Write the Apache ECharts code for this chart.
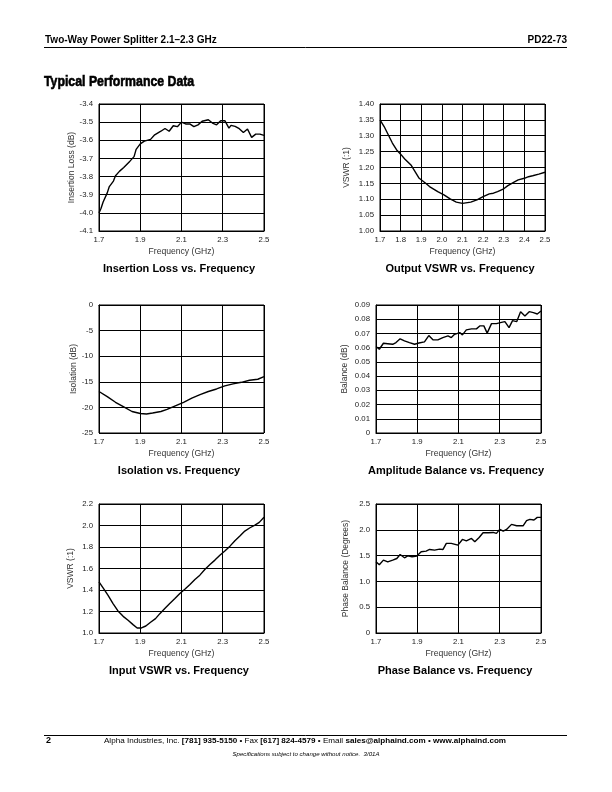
<!DOCTYPE html>
<html><head><meta charset="utf-8">
<script src="https://cdn.jsdelivr.net/npm/echarts@6/dist/echarts.min.js"></script>
<style>html,body{margin:0;padding:0;background:#fff}#c{width:612px;height:792px}</style>
</head><body><div id="c"></div>
<script>
// ---------- DATA ----------
const freqIL = [1.70,1.71,1.72,1.74,1.75,1.77,1.78,1.80,1.82,1.85,1.87,1.88,1.90,1.92,1.95,1.97,2.00,2.02,2.04,2.06,2.08,2.10,2.12,2.14,2.16,2.18,2.20,2.23,2.25,2.27,2.29,2.31,2.33,2.34,2.36,2.38,2.40,2.42,2.44,2.46,2.48,2.50];
const insertionLoss = [-4.00,-3.975,-3.94,-3.89,-3.855,-3.825,-3.795,-3.77,-3.75,-3.715,-3.69,-3.65,-3.62,-3.605,-3.595,-3.57,-3.55,-3.535,-3.55,-3.52,-3.525,-3.50,-3.51,-3.51,-3.525,-3.515,-3.495,-3.487,-3.505,-3.515,-3.492,-3.492,-3.533,-3.518,-3.523,-3.536,-3.557,-3.538,-3.584,-3.566,-3.566,-3.573];

const freqOutVSWR = [1.70,1.72,1.74,1.76,1.78,1.80,1.82,1.85,1.87,1.89,1.92,1.94,1.98,2.01,2.04,2.07,2.10,2.14,2.17,2.20,2.23,2.25,2.27,2.30,2.32,2.35,2.37,2.40,2.42,2.44,2.47,2.50];
const outputVSWR = [1.350,1.329,1.303,1.277,1.256,1.242,1.227,1.208,1.187,1.166,1.151,1.140,1.124,1.114,1.101,1.091,1.087,1.091,1.098,1.108,1.117,1.119,1.124,1.133,1.143,1.154,1.161,1.166,1.171,1.174,1.179,1.185];

const freqIso = [1.70,1.74,1.78,1.82,1.86,1.90,1.93,1.96,2.00,2.03,2.07,2.11,2.15,2.19,2.23,2.27,2.31,2.35,2.39,2.43,2.47,2.50];
const isolation = [-16.9,-17.9,-19.0,-19.9,-20.8,-21.2,-21.3,-21.1,-20.8,-20.4,-19.7,-19.0,-18.2,-17.5,-16.9,-16.4,-15.8,-15.4,-15.1,-14.7,-14.5,-14.0];

const freqAmp = [1.70,1.708,1.716,1.724,1.736,1.757,1.781,1.797,1.817,1.838,1.862,1.887,1.908,1.935,1.956,1.976,2.00,2.024,2.049,2.065,2.081,2.106,2.119,2.138,2.163,2.187,2.203,2.223,2.239,2.26,2.284,2.308,2.325,2.345,2.362,2.382,2.401,2.422,2.443,2.463,2.482,2.50];
const amplitudeBalance = [0.0608,0.0600,0.0589,0.0600,0.0631,0.0628,0.0624,0.0636,0.0662,0.0648,0.0636,0.0624,0.0633,0.0641,0.0685,0.0655,0.0655,0.0671,0.0683,0.0671,0.0694,0.0706,0.0690,0.0725,0.0732,0.0732,0.0753,0.0753,0.0702,0.0769,0.0769,0.0778,0.0783,0.0741,0.0790,0.0783,0.0853,0.0823,0.0853,0.0846,0.0837,0.0858];

const freqInVSWR = [1.70,1.719,1.744,1.768,1.792,1.817,1.841,1.865,1.885,1.906,1.927,1.95,1.974,1.995,2.019,2.043,2.068,2.092,2.116,2.141,2.165,2.189,2.213,2.238,2.262,2.286,2.31,2.335,2.359,2.383,2.407,2.432,2.456,2.477,2.50];
const inputVSWR = [1.476,1.423,1.351,1.274,1.205,1.155,1.118,1.078,1.047,1.047,1.065,1.100,1.134,1.180,1.227,1.274,1.320,1.367,1.407,1.451,1.497,1.538,1.591,1.637,1.678,1.724,1.762,1.808,1.858,1.902,1.948,1.979,2.004,2.029,2.076];

const freqPhase = [1.70,1.716,1.736,1.757,1.781,1.801,1.817,1.838,1.854,1.875,1.898,1.919,1.943,1.96,1.984,2.008,2.025,2.041,2.065,2.097,2.119,2.138,2.163,2.179,2.20,2.219,2.244,2.268,2.284,2.30,2.317,2.333,2.357,2.382,2.414,2.43,2.446,2.466,2.482,2.50];
const phaseBalance = [1.379,1.321,1.412,1.379,1.412,1.444,1.522,1.457,1.496,1.477,1.490,1.574,1.587,1.619,1.606,1.626,1.619,1.736,1.736,1.703,1.813,1.787,1.832,1.768,1.852,1.943,1.943,1.949,1.930,2.008,1.975,2.008,2.105,2.079,2.079,2.176,2.202,2.189,2.241,2.241];

const panelTitles = ['Insertion Loss vs. Frequency','Output VSWR vs. Frequency','Isolation vs. Frequency','Amplitude Balance vs. Frequency','Input VSWR vs. Frequency','Phase Balance vs. Frequency'];
const yNames = ['Insertion Loss (dB)','VSWR (:1)','Isolation (dB)','Balance (dB)','VSWR (:1)','Phase Balance (Degrees)'];
const xName = 'Frequency (GHz)';

// ---------- BUILD ----------
const FONT = '"Liberation Sans", Arial, Helvetica, sans-serif';
function zip(a, b) { const n = Math.min(a.length, b.length); const r = []; for (let i = 0; i < n; i++) r.push([a[i], b[i]]); return r; }
function fmt(dec) { return v => (Math.abs(v) < 1e-9 ? '0' : v.toFixed(dec)); }

const panels = [
  {grid:{left:99,top:104,width:165,height:127}, xi:0.2, y:[-4.1,-3.4,0.1,1], ng:20, data:zip(freqIL, insertionLoss), tx:179, ty:269},
  {grid:{left:380,top:104,width:165,height:127}, xi:0.1, y:[1.0,1.4,0.05,2], ng:29, data:zip(freqOutVSWR, outputVSWR), tx:460, ty:269},
  {grid:{left:99,top:305,width:165,height:128}, xi:0.2, y:[-25,0,5,0], ng:20, data:zip(freqIso, isolation), tx:179, ty:471},
  {grid:{left:376,top:305,width:165,height:128}, xi:0.2, y:[0,0.09,0.01,2], ng:27, data:zip(freqAmp, amplitudeBalance), tx:456, ty:471},
  {grid:{left:99,top:504,width:165,height:129}, xi:0.2, y:[1.0,2.2,0.2,1], ng:24, data:zip(freqInVSWR, inputVSWR), tx:179, ty:671},
  {grid:{left:376,top:504,width:165,height:129}, xi:0.2, y:[0,2.5,0.5,1], ng:26, data:zip(freqPhase, phaseBalance), tx:455, ty:671}
];

const grids = [], xAxes = [], yAxes = [], series = [];
const gridLine = {show:true, lineStyle:{color:'#000', width:1}};
panels.forEach((p, i) => {
  grids.push(Object.assign({show:true, borderColor:'#000', borderWidth:1, backgroundColor:'transparent'}, p.grid));
  xAxes.push({type:'value', gridIndex:i, min:1.7, max:2.5, interval:p.xi,
    name:xName, nameLocation:'middle', nameGap:16,
    nameTextStyle:{fontFamily:FONT, fontSize:8.6, color:'#333'},
    axisLine:{show:true, lineStyle:{color:'#000', width:1}}, axisTick:{show:false},
    axisLabel:{formatter:fmt(1), fontFamily:FONT, fontSize:7.8, color:'#222', margin:5, showMinLabel:true, showMaxLabel:true, hideOverlap:false},
    splitLine:gridLine});
  yAxes.push({type:'value', gridIndex:i, min:p.y[0], max:p.y[1], interval:p.y[2],
    name:yNames[i], nameLocation:'middle', nameGap:p.ng, nameRotate:90,
    nameTextStyle:{fontFamily:FONT, fontSize:8.5, color:'#333'},
    axisLine:{show:true, lineStyle:{color:'#000', width:1}}, axisTick:{show:false},
    axisLabel:{formatter:fmt(p.y[3]), fontFamily:FONT, fontSize:7.8, color:'#222', margin:6, showMinLabel:true, showMaxLabel:true, hideOverlap:false},
    splitLine:gridLine});
  series.push({type:'line', xAxisIndex:i, yAxisIndex:i, data:p.data, showSymbol:false, symbol:'none', smooth:false,
    lineStyle:{color:'#000', width:1.4}, animation:false, silent:true});
});

function txt(text, x, y, font, align) {
  return {type:'text', silent:true, style:{text:text, x:x, y:y, font:font, fill:'#000',
    textAlign:align||'left', align:align||'left', textVerticalAlign:'middle', verticalAlign:'middle'}};
}
function hline(x1, x2, y, w) { return {type:'line', silent:true, shape:{x1:x1, y1:y, x2:x2, y2:y}, style:{stroke:'#000', lineWidth:w}}; }

const heading = txt('Typical Performance Data', 0, 0, 'bold 15px ' + FONT, 'left');
heading.x = 44; heading.y = 82; heading.scaleX = 0.82;
heading.style.stroke = '#000'; heading.style.lineWidth = 0.6;

const graphics = [
  txt('Two-Way Power Splitter 2.1\u20132.3 GHz', 45, 40, 'bold 10px ' + FONT, 'left'),
  txt('PD22-73', 567, 40, 'bold 10px ' + FONT, 'right'),
  hline(44, 567, 47.5, 1),
  heading,
  hline(44, 567, 735.5, 1),
  txt('2', 46, 741, 'bold 9px ' + FONT, 'left'),
  {type:'text', silent:true, style:{
    text:'{n|Alpha Industries, Inc. }{b|[781] 935-5150}{n| \u2022 Fax }{b|[617] 824-4579}{n| \u2022 Email }{b|sales@alphaind.com}{n| \u2022 }{b|www.alphaind.com}',
    x:305, y:741, align:'center', textAlign:'center', verticalAlign:'middle', textVerticalAlign:'middle', fill:'#000',
    rich:{n:{fontFamily:FONT, fontSize:8.1, fill:'#000'}, b:{fontFamily:FONT, fontSize:8.1, fontWeight:'bold', fill:'#000'}}}},
  txt('Specifications subject to change without notice.  3/01A', 306, 754, 'italic 6.1px ' + FONT, 'center')
];
panels.forEach((p, i) => graphics.push(txt(panelTitles[i], p.tx, p.ty, 'bold 11px ' + FONT, 'center')));

const chart = echarts.init(document.getElementById('c'), null, {renderer:'canvas'});
chart.setOption({
  animation:false,
  backgroundColor:'#fff',
  grid:grids, xAxis:xAxes, yAxis:yAxes, series:series,
  graphic:{elements:graphics}
});
</script>
</body></html>
